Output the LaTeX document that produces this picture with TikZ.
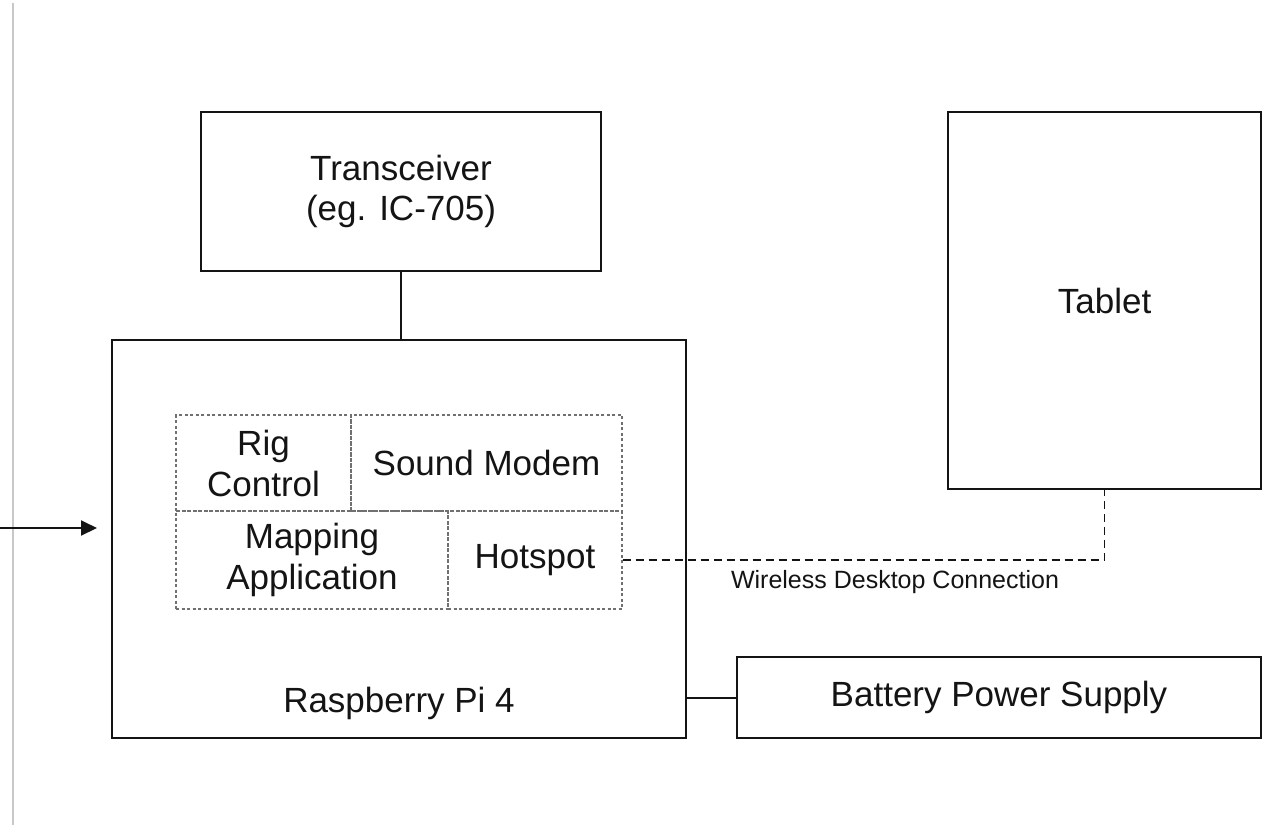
\documentclass[tikz,border=0pt]{standalone}
\usepackage{fontspec}
\setmainfont{Liberation Sans}
\usetikzlibrary{arrows.meta}
\definecolor{ink}{HTML}{141414}
\definecolor{rule}{HTML}{C8C8C8}
\definecolor{dotc}{HTML}{707070}
\tikzset{
  blk/.style={draw=ink, line width=2pt, rectangle, inner sep=0pt, align=center,
    font=\fontsize{35}{40}\selectfont, text=ink},
  sub/.style={draw=dotc, line width=1.3pt, dash pattern=on 3pt off 2.5pt, rectangle, inner sep=0pt,
    align=center, font=\fontsize{35}{41}\selectfont, text=ink},
  txt/.style={inner sep=0pt, align=center, font=\fontsize{35}{40}\selectfont, text=ink},
  conn/.style={draw=ink, line width=2pt},
  wire/.style={draw=ink, line width=1.6pt, dash pattern=on 8pt off 5pt},
}
\begin{document}
\begin{tikzpicture}[x=1pt,y=-1pt]
\useasboundingbox (0,0) rectangle (1268,825);
\fill[white] (0,0) rectangle (1268,825);
% left gray rule
\coordinate (gt) at (13,3);
\coordinate (gb) at (13,825);
\draw[rule, line width=2.2pt] (gt) -- (gb);
% boxes
\node[blk, minimum width=400pt, minimum height=159pt] (tr) at (401,191.5) {Transceiver\\(eg. IC-705)};
\node[blk, minimum width=574pt, minimum height=398pt] (pi) at (399,539) {};
\node[txt] (pit) at (399,703) {Raspberry Pi 4};
\node[blk, minimum width=313pt, minimum height=377pt] (tab) at (1104.5,300.5) {Tablet};
\node[blk, minimum width=524pt, minimum height=81pt] (bat) at (999,697.5) {Battery Power Supply};
% inner software blocks
\node[sub, minimum width=175pt, minimum height=96pt] (rig) at (263.5,463) {Rig\\Control};
\node[sub, minimum width=271pt, minimum height=96pt] (snd) at (486.5,463) {Sound Modem};
\node[sub, minimum width=272pt, minimum height=98pt] (map) at (312,560) {Mapping\\Application};
\node[sub, minimum width=174pt, minimum height=98pt] (hot) at (535,560) {Hotspot};
% connectors
\draw[conn] (tr.south) -- (tr.south |- pi.north);
\draw[conn] (bat.west) -- (bat.west -| pi.east);
\draw[wire] (hot.east) -| (tab.south);
\node[txt, font=\fontsize{25}{30}\selectfont] (wl) at (895,582) {Wireless Desktop Connection};
% incoming arrow
\coordinate (as) at (0,528);
\coordinate (ae) at (97,528);
\draw[conn, -{Triangle[length=16pt,width=15pt]}] (as) -- (ae);
\end{tikzpicture}
\end{document}
